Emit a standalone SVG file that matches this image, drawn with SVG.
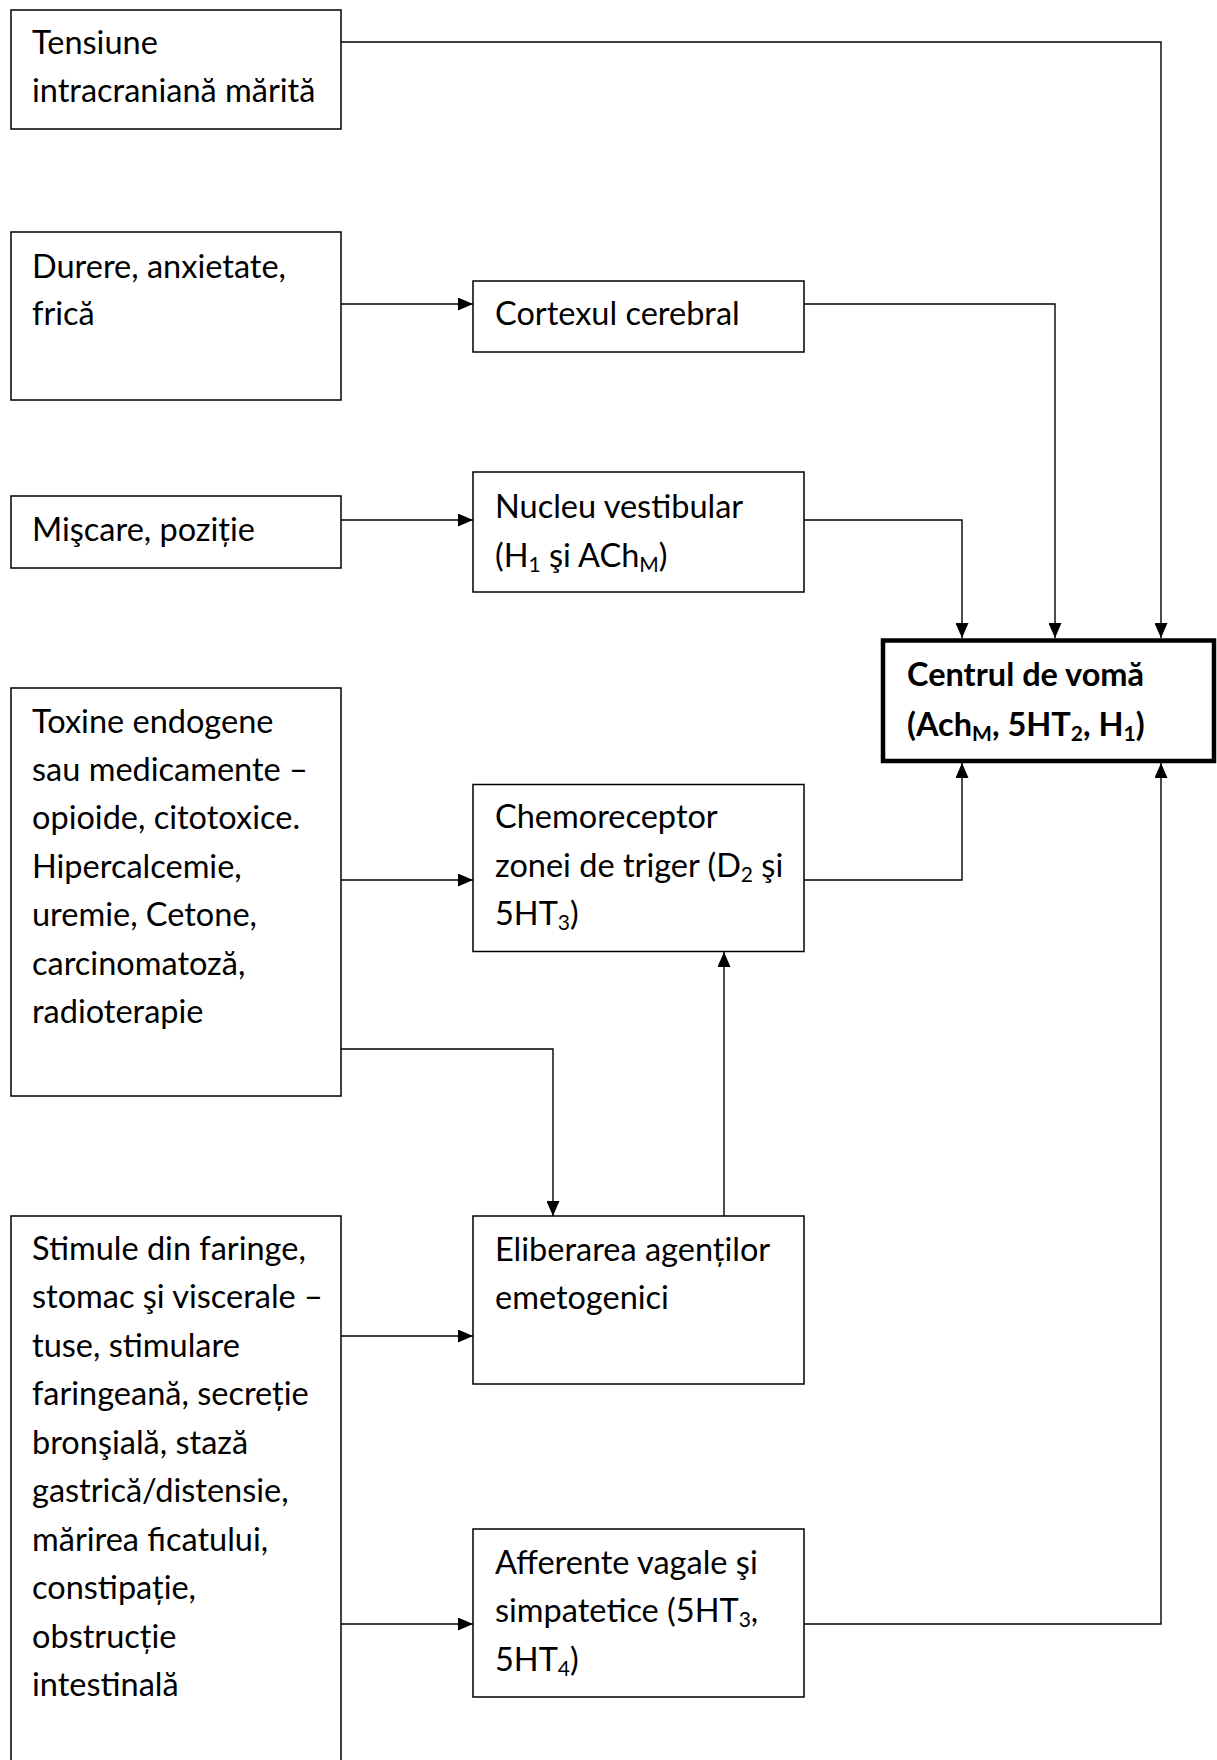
<svg xmlns="http://www.w3.org/2000/svg" width="1217" height="1760" viewBox="0 0 1217 1760">
<defs>
<marker id="arr" markerUnits="userSpaceOnUse" markerWidth="15" markerHeight="13" refX="15" refY="6.5" orient="auto">
<path d="M0,0 L15,6.5 L0,13 z" fill="#000"/>
</marker>
<style>
.box{fill:#fff;stroke:#000;stroke-width:1.5}
.main{fill:#fff;stroke:#000;stroke-width:4.5}
.t{font-family:Lato,"Liberation Sans",sans-serif;font-size:32.5px;fill:#000}
.b{font-weight:bold}
.sub{font-size:21px}
.c{fill:none;stroke:#000;stroke-width:1.4;marker-end:url(#arr)}
</style>
</defs>
<rect width="1217" height="1760" fill="#fff"/>
<g id="connectors">
<path class="c" d="M341 42 H1161 V638"/>
<path class="c" d="M341 304 H473"/>
<path class="c" d="M804 304 H1055 V638"/>
<path class="c" d="M341 520 H473"/>
<path class="c" d="M804 520 H962 V638"/>
<path class="c" d="M341 880 H473"/>
<path class="c" d="M804 880 H962 V763"/>
<path class="c" d="M341 1049 H553 V1216"/>
<path class="c" d="M724 1216 V952"/>
<path class="c" d="M341 1336 H473"/>
<path class="c" d="M341 1624 H473"/>
<path class="c" d="M804 1624 H1161 V763"/>
</g>
<g id="tensiune">
<rect class="box" x="11" y="10" width="330" height="119"/>
<text class="t" x="32" y="54">Tensiune</text>
<text class="t" x="32" y="101.5">intracraniană mărită</text>
</g>
<g id="durere">
<rect class="box" x="11" y="232" width="330" height="168"/>
<text class="t" x="32" y="277.5">Durere, anxietate,</text>
<text class="t" x="32" y="324.5">frică</text>
</g>
<g id="miscare">
<rect class="box" x="11" y="496" width="330" height="72"/>
<text class="t" x="32" y="541">Mişcare, poziție</text>
</g>
<g id="toxine">
<rect class="box" x="11" y="688" width="330" height="408"/>
<text class="t" x="32" y="732.5">Toxine endogene</text>
<text class="t" x="32" y="780.5">sau medicamente –</text>
<text class="t" x="32" y="829">opioide, citotoxice.</text>
<text class="t" x="32" y="877.5">Hipercalcemie,</text>
<text class="t" x="32" y="926">uremie, Cetone,</text>
<text class="t" x="32" y="974.5">carcinomatoză,</text>
<text class="t" x="32" y="1023">radioterapie</text>
</g>
<g id="stimule">
<rect class="box" x="11" y="1216" width="330" height="560"/>
<text class="t" x="32" y="1259.5">Stimule din faringe,</text>
<text class="t" x="32" y="1308">stomac şi viscerale –</text>
<text class="t" x="32" y="1356.5">tuse, stimulare</text>
<text class="t" x="32" y="1405">faringeană, secreție</text>
<text class="t" x="32" y="1453.5">bronşială, stază</text>
<text class="t" x="32" y="1502">gastrică/distensie,</text>
<text class="t" x="32" y="1550.5">mărirea ficatului,</text>
<text class="t" x="32" y="1599">constipație,</text>
<text class="t" x="32" y="1647.5">obstrucție</text>
<text class="t" x="32" y="1696">intestinală</text>
</g>
<g id="cortex">
<rect class="box" x="473" y="281" width="331" height="71"/>
<text class="t" x="495" y="324.5">Cortexul cerebral</text>
</g>
<g id="nucleu">
<rect class="box" x="473" y="472" width="331" height="120"/>
<text class="t" x="495" y="517.5">Nucleu vestibular</text>
<text class="t" x="495" y="566.5">(H<tspan class="sub" dy="5">1</tspan><tspan dy="-5"> şi ACh</tspan><tspan class="sub" dy="5">M</tspan><tspan dy="-5">)</tspan></text>
</g>
<g id="chemo">
<rect class="box" x="473" y="784.5" width="331" height="167"/>
<text class="t" x="495" y="828">Chemoreceptor</text>
<text class="t" x="495" y="876.5">zonei de triger (D<tspan class="sub" dy="5">2</tspan><tspan dy="-5"> şi</tspan></text>
<text class="t" x="495" y="924.5">5HT<tspan class="sub" dy="5">3</tspan><tspan dy="-5">)</tspan></text>
</g>
<g id="eliberare">
<rect class="box" x="473" y="1216" width="331" height="168"/>
<text class="t" x="495" y="1260.5">Eliberarea agenților</text>
<text class="t" x="495" y="1308.5">emetogenici</text>
</g>
<g id="afferente">
<rect class="box" x="473" y="1529" width="331" height="168"/>
<text class="t" x="495" y="1573.5">Afferente vagale şi</text>
<text class="t" x="495" y="1621.5">simpatetice (5HT<tspan class="sub" dy="5">3</tspan><tspan dy="-5">,</tspan></text>
<text class="t" x="495" y="1670.5">5HT<tspan class="sub" dy="5">4</tspan><tspan dy="-5">)</tspan></text>
</g>
<g id="centrul">
<rect class="main" x="883" y="640.5" width="331" height="120.5"/>
<text class="t b" x="907" y="685.5">Centrul de vomă</text>
<text class="t b" x="907" y="735.5">(Ach<tspan class="sub" dy="5">M</tspan><tspan dy="-5">, 5HT</tspan><tspan class="sub" dy="5">2</tspan><tspan dy="-5">, H</tspan><tspan class="sub" dy="5">1</tspan><tspan dy="-5">)</tspan></text>
</g>
</svg>
